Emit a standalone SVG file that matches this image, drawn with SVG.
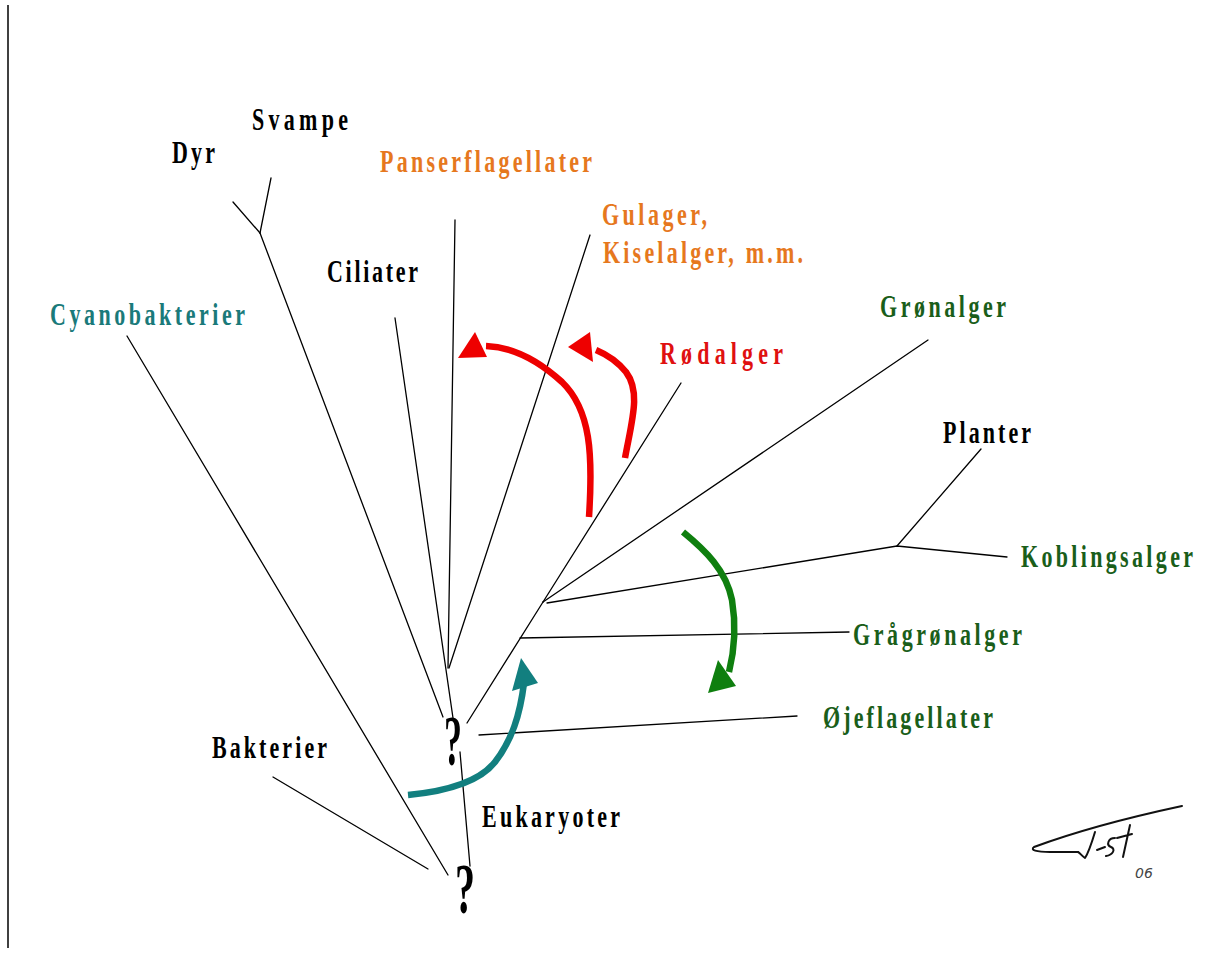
<svg xmlns="http://www.w3.org/2000/svg" width="1222" height="954" viewBox="0 0 1222 954">
<style>
.bg{fill:#ffffff}
.ln{stroke:#000;stroke-width:1.3;fill:none;stroke-linecap:round}
.lbl{font-family:"Liberation Serif","Times New Roman",serif;font-weight:bold;font-size:22px}
.q{font-family:"Liberation Serif","Times New Roman",serif;font-weight:bold;font-size:50px;fill:#000}
.blk{fill:#000}
.org{fill:#e6781e}
.teal{fill:#1a7a7a}
.red{fill:#e01010}
.grn{fill:#1a5e1a}
.arr{fill:none;stroke-width:6.5;stroke-linecap:butt}
.sig{fill:none;stroke:#111;stroke-width:2;stroke-linecap:round;stroke-linejoin:round}
</style>
<rect class="bg" x="0" y="0" width="1222" height="954"/>
<line x1="8" y1="5" x2="8" y2="948" stroke="#000" stroke-width="1.5"/>

<g id="connectors">
  <line class="ln" x1="273" y1="777" x2="428" y2="869"/>
  <line class="ln" x1="127" y1="336" x2="448" y2="875"/>
  <line class="ln" x1="233" y1="202" x2="260" y2="233"/>
  <line class="ln" x1="271" y1="178" x2="260" y2="233"/>
  <line class="ln" x1="260" y1="233" x2="443" y2="717"/>
  <line class="ln" x1="395" y1="318" x2="453" y2="718"/>
  <line class="ln" x1="455" y1="220" x2="448" y2="668"/>
  <line class="ln" x1="590" y1="235" x2="449" y2="668"/>
  <line class="ln" x1="467" y1="723" x2="543" y2="602"/>
  <line class="ln" x1="543" y1="602" x2="681" y2="383"/>
  <line class="ln" x1="543" y1="602" x2="928" y2="340"/>
  <polyline class="ln" points="547,603 897,546 1007,557"/>
  <line class="ln" x1="897" y1="546" x2="981" y2="449"/>
  <line class="ln" x1="520" y1="638" x2="849" y2="632"/>
  <line class="ln" x1="479" y1="735" x2="797" y2="716"/>
  <line class="ln" x1="460" y1="752" x2="470" y2="866"/>
</g>

<g id="arrow-red-1">
  <path class="arr" stroke="#ee0000" d="M589,517 C593,455 591,410 562,382 C540,362 515,347 486,346"/>
  <polygon fill="#ee0000" points="475,332 458,358 487,357"/>
</g>
<g id="arrow-red-2">
  <path class="arr" stroke="#ee0000" d="M625,458 C632,420 641,392 626,372 C617,361 608,355 596,350"/>
  <polygon fill="#ee0000" points="590,332 568,347 593,362"/>
</g>
<g id="arrow-green">
  <path class="arr" stroke="#0f7f0f" d="M683,532 C705,550 726,570 732,600 C737,630 734,652 729,672"/>
  <polygon fill="#0f7f0f" points="718,660 708,693 736,686"/>
</g>
<g id="arrow-teal">
  <path class="arr" stroke="#127f7f" d="M408,795 C450,791 480,781 495,762 C512,740 520,715 524,683"/>
  <polygon fill="#127f7f" points="521,658 512,691 538,683"/>
</g>

<g id="node-dyr"><text class="lbl blk" transform="translate(172,163) scale(1,1.45)" textLength="43" lengthAdjust="spacing">Dyr</text></g>
<g id="node-svampe"><text class="lbl blk" transform="translate(252,130) scale(1,1.45)" textLength="96" lengthAdjust="spacing">Svampe</text></g>
<g id="node-panserflagellater"><text class="lbl org" transform="translate(380,172) scale(1,1.45)" textLength="212" lengthAdjust="spacing">Panserflagellater</text></g>
<g id="node-gulager">
  <text class="lbl org" transform="translate(602,225) scale(1,1.45)" textLength="105" lengthAdjust="spacing">Gulager,</text>
  <text class="lbl org" transform="translate(603,263) scale(1,1.45)" textLength="200" lengthAdjust="spacing">Kiselalger, m.m.</text>
</g>
<g id="node-ciliater"><text class="lbl blk" transform="translate(327,282) scale(1,1.45)" textLength="91" lengthAdjust="spacing">Ciliater</text></g>
<g id="node-cyanobakterier"><text class="lbl teal" transform="translate(50,325) scale(1,1.45)" textLength="195" lengthAdjust="spacing">Cyanobakterier</text></g>
<g id="node-gronalger"><text class="lbl grn" transform="translate(880,317) scale(1,1.45)" textLength="126" lengthAdjust="spacing">Grønalger</text></g>
<g id="node-rodalger"><text class="lbl red" transform="translate(660,364) scale(1,1.45)" textLength="123" lengthAdjust="spacing">Rødalger</text></g>
<g id="node-planter"><text class="lbl blk" transform="translate(943,443) scale(1,1.45)" textLength="88" lengthAdjust="spacing">Planter</text></g>
<g id="node-koblingsalger"><text class="lbl grn" transform="translate(1021,567) scale(1,1.45)" textLength="172" lengthAdjust="spacing">Koblingsalger</text></g>
<g id="node-gragronalger"><text class="lbl grn" transform="translate(853,645) scale(1,1.45)" textLength="169" lengthAdjust="spacing">Grågrønalger</text></g>
<g id="node-ojeflagellater"><text class="lbl grn" transform="translate(823,728) scale(1,1.45)" textLength="170" lengthAdjust="spacing">Øjeflagellater</text></g>
<g id="node-bakterier"><text class="lbl blk" transform="translate(212,758) scale(1,1.45)" textLength="115" lengthAdjust="spacing">Bakterier</text></g>
<g id="node-eukaryoter"><text class="lbl blk" transform="translate(482,827) scale(1,1.45)" textLength="138" lengthAdjust="spacing">Eukaryoter</text></g>
<g id="node-q1"><text class="q" transform="translate(444,765) scale(0.72,1.45)">?</text></g>
<g id="node-q2"><text class="q" transform="translate(455,913) scale(0.8,1.45)">?</text></g>

<g id="signature">
  <path class="sig" d="M1182,806 C1140,815 1080,830 1034,847 C1030,850 1036,852 1050,852 L1078,852"/>
  <path class="sig" d="M1095,832 C1092,842 1089,852 1085,858 C1082,856 1080,853 1078,852"/>
  <path class="sig" d="M1097,850 L1105,847"/>
  <path class="sig" d="M1115,838 C1108,838 1106,845 1111,847 C1116,849 1113,855 1106,856"/>
  <path class="sig" d="M1130,825 L1123,857 M1117,838 L1132,834"/>
  <text x="1135" y="878" font-family="DejaVu Sans, sans-serif" font-style="italic" font-size="14" fill="#444">06</text>
</g>
</svg>
